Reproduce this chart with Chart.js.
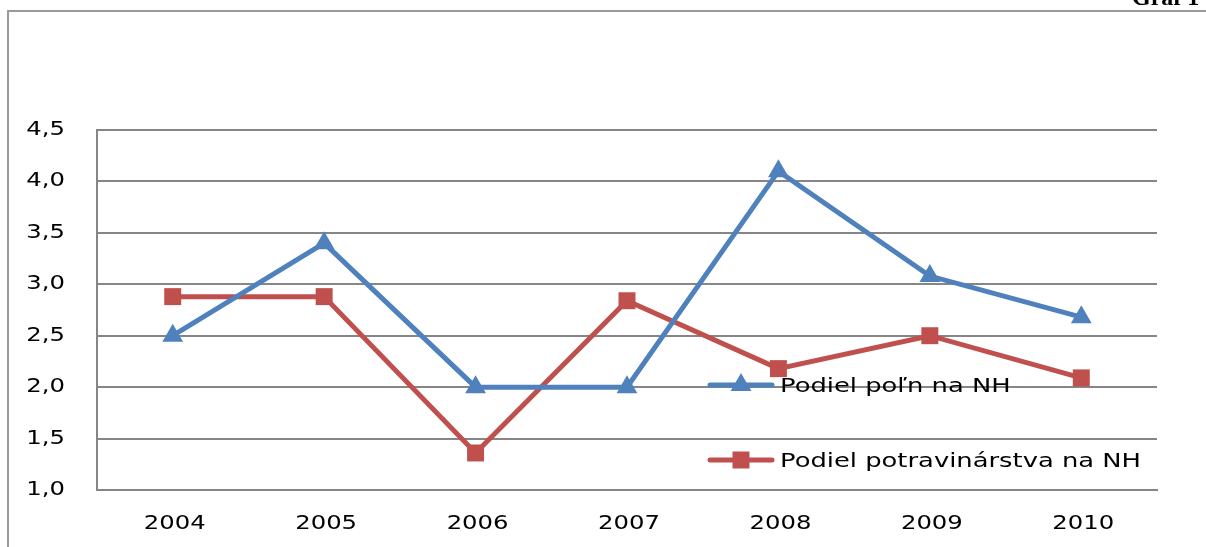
<!DOCTYPE html>
<html>
<head>
<meta charset="utf-8">
<script src="https://cdn.jsdelivr.net/npm/chart.js@4"></script>
<style>
  html, body { margin: 0; padding: 0; background: #fff; }
  #wrap { width: 1206px; height: 547px; position: relative; }
</style>
</head>
<body>
<div id="wrap"><canvas id="myChart"></canvas></div>
<script>
var years = ['2004', '2005', '2006', '2007', '2008', '2009', '2010'];
var podielPoln = [2.5, 3.4, 2.0, 2.0, 4.1, 3.08, 2.68];
var podielPotrav = [2.88, 2.88, 1.36, 2.84, 2.18, 2.5, 2.09];
var yTicks = ['1,0', '1,5', '2,0', '2,5', '3,0', '3,5', '4,0', '4,5'];
var seriesNames = ['Podiel poľn na NH', 'Podiel potravinárstva na NH'];

var FONT = '19px "DejaVu Sans"';
var STRETCH = 1.28;

function stretchedText(ctx, txt, x, y, align, sx) {
    ctx.save();
    ctx.translate(x, y);
    ctx.scale(sx || STRETCH, 1);
    ctx.textAlign = align;
    ctx.fillText(txt, 0, 0);
    ctx.restore();
}

// frame, tick labels and the legend drawn in the Excel way
var extras = {
    id: 'extras',
    afterDraw: function (chart) {
        var ctx = chart.ctx;
        var xs = chart.scales.x, ys = chart.scales.y;
        ctx.save();
        ctx.strokeStyle = '#9a9a9a';
        ctx.lineWidth = 2;
        ctx.beginPath();
        ctx.moveTo(8, 547);
        ctx.lineTo(8, 11);
        ctx.lineTo(1206, 11);
        ctx.stroke();

        ctx.fillStyle = '#000';
        ctx.font = 'bold 24px "Liberation Serif"';
        ctx.textBaseline = 'alphabetic';
        ctx.textAlign = 'left';
        ctx.fillText('Graf 1', 1132, 5);

        ctx.font = FONT;
        ctx.textBaseline = 'middle';
        ys.ticks.forEach(function (t, i) {
            stretchedText(ctx, yTicks[i], 65, ys.getPixelForValue(t.value), 'right');
        });
        years.forEach(function (y, i) {
            stretchedText(ctx, y, xs.getPixelForValue(i) + 2, 524, 'center');
        });

        // legend
        var legY = [385, 460];
        chart.data.datasets.forEach(function (ds, i) {
            var y = legY[i];
            ctx.strokeStyle = ds.borderColor;
            ctx.lineWidth = 5;
            ctx.lineCap = 'round';
            ctx.beginPath();
            ctx.moveTo(710, y);
            ctx.lineTo(772, y);
            ctx.stroke();
            ctx.fillStyle = ds.borderColor;
            var r = 12;
            ctx.beginPath();
            if (ds.pointStyle === 'triangle') {
                ctx.moveTo(741, y - r);
                ctx.lineTo(741 + r * 0.866, y + r / 2);
                ctx.lineTo(741 - r * 0.866, y + r / 2);
                ctx.closePath();
            } else {
                var s = r * Math.SQRT1_2;
                ctx.rect(741 - s, y - s, 2 * s, 2 * s);
            }
            ctx.fill();
            ctx.fillStyle = '#000';
            ctx.font = '20px "DejaVu Sans"';
            stretchedText(ctx, ds.label, 780, y + 2, 'left', 1.29);
        });
        ctx.restore();
    }
};

function createChart() {
    var ctx = document.getElementById('myChart').getContext('2d');
    new Chart(ctx, {
        type: 'line',
        data: {
            labels: years,
            datasets: [
                {
                    label: seriesNames[0],
                    data: podielPoln,
                    borderColor: '#4F81BD',
                    backgroundColor: '#4F81BD',
                    borderWidth: 5,
                    pointStyle: 'triangle',
                    pointRadius: 12,
                    pointBorderWidth: 0,
                    tension: 0
                },
                {
                    label: seriesNames[1],
                    data: podielPotrav,
                    borderColor: '#C0504D',
                    backgroundColor: '#C0504D',
                    borderWidth: 5,
                    pointStyle: 'rect',
                    pointRadius: 12,
                    pointBorderWidth: 0,
                    tension: 0
                }
            ]
        },
        options: {
            responsive: false,
            animation: false,
            layout: { padding: { left: 0, right: 49, top: 130, bottom: 0 } },
            plugins: { legend: { display: false }, tooltip: { enabled: false } },
            scales: {
                x: {
                    offset: true,
                    grid: { display: false, drawTicks: false },
                    border: { color: '#868686', width: 2 },
                    ticks: { display: false },
                    afterFit: function (s) { s.height = 57; }
                },
                y: {
                    min: 1,
                    max: 4.5,
                    ticks: { stepSize: 0.5, display: false },
                    grid: { color: '#868686', lineWidth: 2, drawTicks: false },
                    border: { color: '#868686', width: 2 },
                    afterFit: function (s) { s.width = 97; }
                }
            }
        },
        plugins: [extras]
    });
}

document.getElementById('myChart').width = 1206;
document.getElementById('myChart').height = 547;
createChart();
</script>
</body>
</html>
